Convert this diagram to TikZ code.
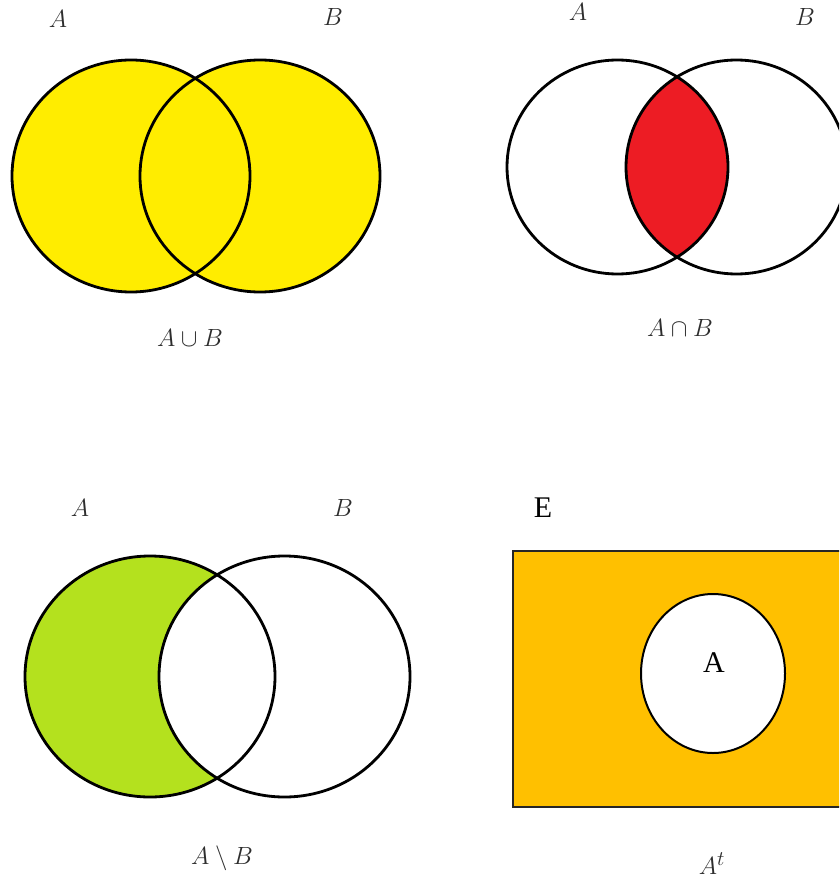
\documentclass[tikz,border=0pt]{standalone}
\usepackage{fontspec}
\newfontfamily\timesfont{Liberation Serif}
\usetikzlibrary{shapes.geometric}
\definecolor{unionyellow}{RGB}{255,237,0}
\definecolor{interred}{RGB}{237,28,36}
\definecolor{diffgreen}{RGB}{180,225,30}
\definecolor{complorange}{RGB}{255,192,0}
\definecolor{labelgray}{RGB}{45,45,45}
\tikzset{
  outline/.style={draw=black, line width=2.8pt},
  setlabel/.style={text=labelgray, font=\fontsize{28}{32}\selectfont, inner sep=0pt},
  caption/.style={text=labelgray, font=\fontsize{31}{36}\selectfont, inner sep=0pt},
  romanlabel/.style={text=black, font=\timesfont\fontsize{30}{34}\selectfont, inner sep=0pt}
}
\begin{document}
\begin{tikzpicture}[x=1pt,y=-1pt]
\useasboundingbox (0,0) rectangle (839,885);
\clip (0,0) rectangle (839,885);
\fill[white] (0,0) rectangle (839,885);

% ---------- top-left: union ----------
\fill[unionyellow] (131,176) ellipse [x radius=119pt, y radius=116pt];
\fill[unionyellow] (260,176) ellipse [x radius=120pt, y radius=116pt];
\draw[outline] (131,176) ellipse [x radius=119pt, y radius=116pt];
\draw[outline] (260,176) ellipse [x radius=120pt, y radius=116pt];
\node[setlabel] (ulA) at (58,19) {$A$};
\node[setlabel] (ulB) at (333,17) {$B$};
\node[caption] (ulcap) at (190,338) {$A\cup B$};

% ---------- top-right: intersection ----------
\begin{scope}
  \clip (617.5,167) ellipse [x radius=110.5pt, y radius=107pt];
  \fill[interred] (736.5,167) ellipse [x radius=110.5pt, y radius=107pt];
\end{scope}
\draw[outline] (617.5,167) ellipse [x radius=110.5pt, y radius=107pt];
\draw[outline] (736.5,167) ellipse [x radius=110.5pt, y radius=107pt];
\node[setlabel] (urA) at (578,12) {$A$};
\node[setlabel] (urB) at (805,17) {$B$};
\node[caption] (urcap) at (680,328) {$A\cap B$};

% ---------- bottom-left: difference ----------
\fill[diffgreen] (150,676.5) ellipse [x radius=125pt, y radius=120.5pt];
\fill[white] (284.5,676.5) ellipse [x radius=125.5pt, y radius=120.5pt];
\draw[outline] (150,676.5) ellipse [x radius=125pt, y radius=120.5pt];
\draw[outline] (284.5,676.5) ellipse [x radius=125.5pt, y radius=120.5pt];
\node[setlabel] (llA) at (80,508) {$A$};
\node[setlabel] (llB) at (343,508) {$B$};
\node[caption] (llcap) at (222,858) {$A\setminus B$};

% ---------- bottom-right: complement ----------
\filldraw[fill=complorange, draw=black!85, line width=1.6pt] (513,551) rectangle (850,807);
\filldraw[fill=white, draw=black, line width=2pt] (713,673.5) ellipse [x radius=72pt, y radius=79.5pt];
\node[romanlabel] (lrE) at (543,508) {E};
\node[romanlabel] (lrA) at (714,663) {A};
\node[caption] (lrcap) at (712,864) {$A^{t}$};
\end{tikzpicture}
\end{document}
